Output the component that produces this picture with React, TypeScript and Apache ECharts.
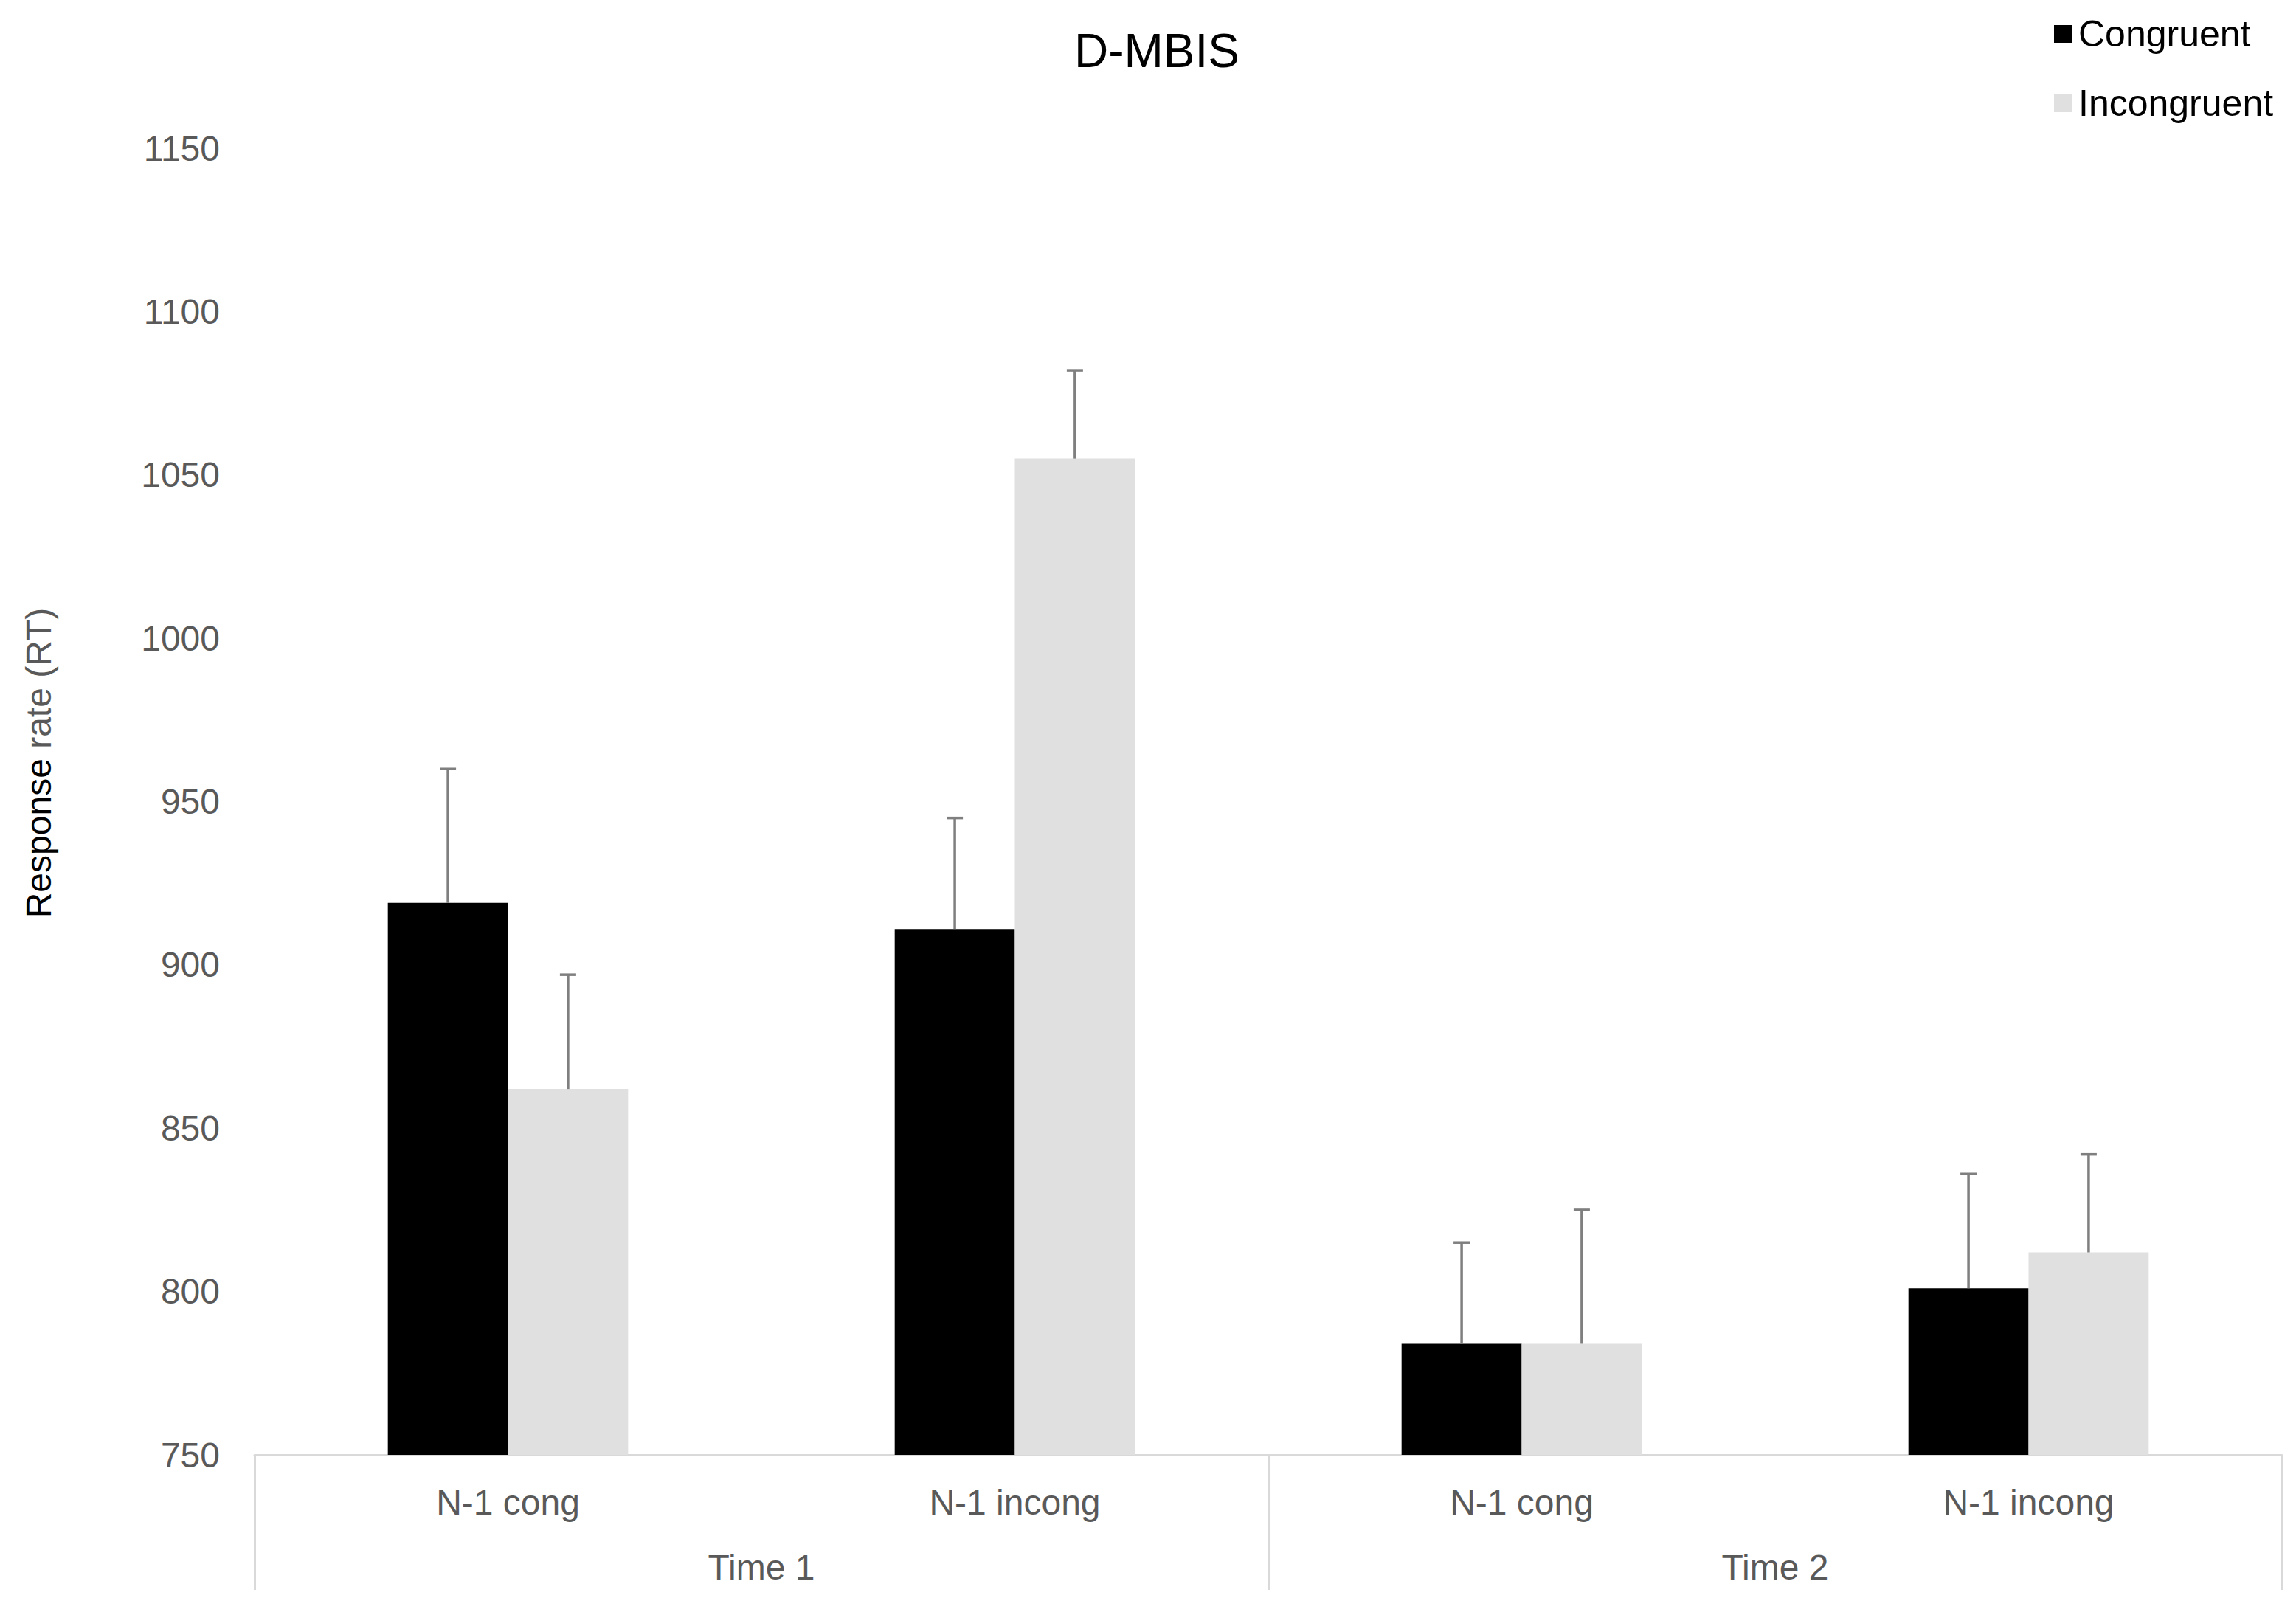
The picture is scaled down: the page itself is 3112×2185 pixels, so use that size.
import React, { useEffect, useRef } from "react";
import * as echarts from "echarts";

const categories = ["N-1 cong", "N-1 incong", "N-1 cong", "N-1 incong"];
const groups = ["Time 1", "Time 2"];
const seriesNames = ["Congruent", "Incongruent"];
const congruent = [919, 911, 784, 801];
const incongruent = [862, 1055, 784, 812];
const congruentErr = [41, 34, 31, 35];
const incongruentErr = [35, 27, 41, 30];
const yMin = 750;
const yMax = 1150;
const yStep = 50;

const FONT = "'Liberation Sans', Arial, sans-serif";
const BAR_FRAC = 0.237;
const GRAY_TXT = "#595959";

function errorSeries(name: string, vals: number[], errs: number[], side: number) {
  return {
    type: "custom",
    name: name + " error",
    xAxisIndex: 0,
    yAxisIndex: 0,
    z: 5,
    silent: true,
    data: vals.map((v, i) => [i, v, v + errs[i]]),
    encode: { x: 0, y: [1, 2] },
    renderItem: (params: any, api: any) => {
      const base = api.coord([api.value(0), api.value(1)]);
      const top = api.coord([api.value(0), api.value(2)]);
      const band = api.size([1, 0])[0];
      const bw = band * BAR_FRAC;
      const cx = base[0] + (side * bw) / 2;
      const style = { stroke: "#7f7f7f", lineWidth: 3.5 };
      return {
        type: "group",
        children: [
          { type: "line", shape: { x1: cx, y1: base[1], x2: cx, y2: top[1] }, style },
          { type: "line", shape: { x1: cx - 11, y1: top[1], x2: cx + 11, y2: top[1] }, style },
        ],
      };
    },
  };
}

export default function App() {
  const ref = useRef<HTMLDivElement>(null);
  useEffect(() => {
    if (!ref.current) return;
    const chart = echarts.init(ref.current, null, { renderer: "svg" });
    chart.setOption({
      animation: false,
      backgroundColor: "#ffffff",
      textStyle: { fontFamily: FONT },
      title: {
        text: "D-MBIS",
        left: 1563,
        top: 32,
        textAlign: "center",
        textStyle: { fontSize: 64, fontWeight: "normal", color: "#000", fontFamily: FONT },
      },
      legend: {
        data: [
          { name: seriesNames[0], itemStyle: { color: "#000000" } },
          { name: seriesNames[1], itemStyle: { color: "#e0e0e0" } },
        ],
        orient: "vertical",
        left: 2779,
        top: 16,
        icon: "rect",
        itemWidth: 24,
        itemHeight: 24,
        itemGap: 44,
        textStyle: { fontSize: 50, color: "#000", fontFamily: FONT, padding: [0, 0, 0, 4] },
      },
      grid: { left: 345, right: 19, top: 201, bottom: 213, containLabel: false },
      xAxis: [
        {
          type: "category",
          data: categories,
          position: "bottom",
          axisLine: { show: true, lineStyle: { color: "#d9d9d9", width: 3 } },
          axisTick: { show: false },
          axisLabel: { margin: 40, fontSize: 48, color: GRAY_TXT, fontFamily: FONT },
          splitLine: { show: false },
        },
        {
          type: "category",
          data: groups,
          position: "bottom",
          axisLine: { show: false },
          axisTick: { show: true, length: 183, lineStyle: { color: "#d9d9d9", width: 3 } },
          axisLabel: { margin: 128, fontSize: 48, color: GRAY_TXT, fontFamily: FONT },
          splitLine: { show: false },
        },
      ],
      yAxis: {
        type: "value",
        min: yMin,
        max: yMax,
        interval: yStep,
        axisLine: { show: false },
        axisTick: { show: false },
        splitLine: { show: false },
        axisLabel: {
          margin: 47,
          fontSize: 48,
          color: GRAY_TXT,
          fontFamily: FONT,
          formatter: (v: number) => String(v),
        },
      },
      graphic: [
        {
          type: "text",
          x: 52,
          y: 1034,
          rotation: Math.PI / 2,
          style: {
            text: "{a|Response} {b|rate (RT)}",
            align: "center",
            verticalAlign: "middle",
            fontSize: 48,
            fontFamily: FONT,
            rich: {
              a: { fontSize: 48, fill: "#000000", fontFamily: FONT },
              b: { fontSize: 48, fill: GRAY_TXT, fontFamily: FONT },
            },
          },
        },
      ],
      series: [
        {
          type: "bar",
          name: seriesNames[0],
          data: congruent,
          barWidth: BAR_FRAC * 100 + "%",
          barGap: "0%",
          itemStyle: { color: "#000000" },
          z: 2,
        },
        {
          type: "bar",
          name: seriesNames[1],
          data: incongruent,
          barWidth: BAR_FRAC * 100 + "%",
          barGap: "0%",
          itemStyle: { color: "#e0e0e0" },
          z: 2,
        },
        errorSeries(seriesNames[0], congruent, congruentErr, -1),
        errorSeries(seriesNames[1], incongruent, incongruentErr, 1),
      ],
    });
    return () => chart.dispose();
  }, []);
  return (
    <div
      ref={ref}
      style={{ position: "fixed", left: 0, top: 0, width: 3112, height: 2185, background: "#fff" }}
    />
  );
}
